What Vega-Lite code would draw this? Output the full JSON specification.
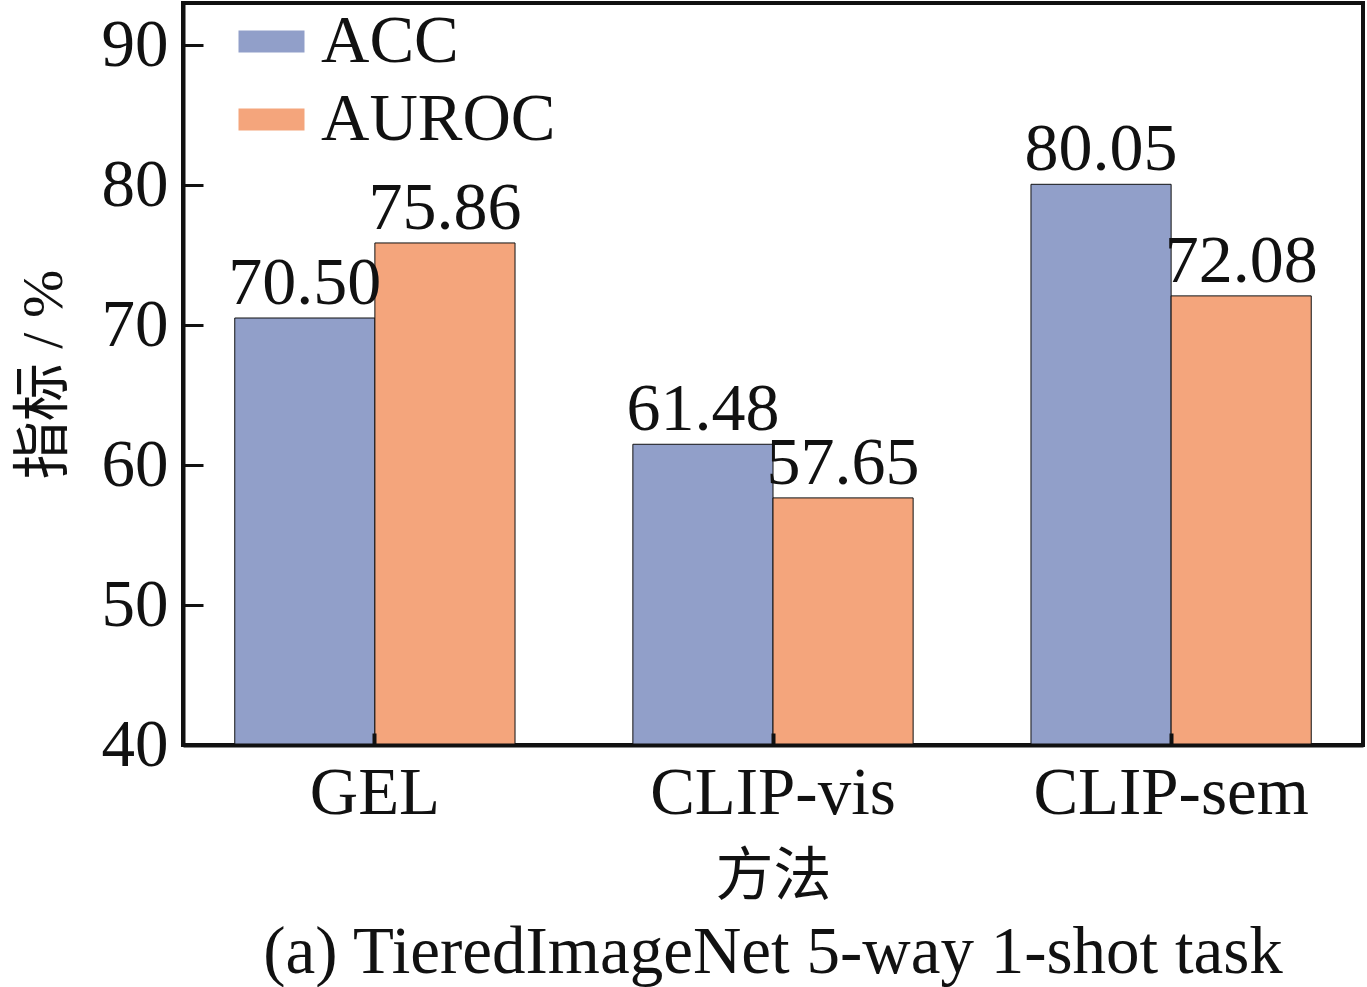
{
  "$schema": "https://vega.github.io/schema/vega-lite/v6.json",
  "width": 1180,
  "height": 742,
  "autosize": "none",
  "padding": {"left": 183, "top": 3, "right": 4, "bottom": 242},
  "background": "white",
  "data": {
    "values": [
      {"method": "GEL", "metric": "ACC", "value": 70.50},
      {"method": "GEL", "metric": "AUROC", "value": 75.86},
      {"method": "CLIP-vis", "metric": "ACC", "value": 61.48},
      {"method": "CLIP-vis", "metric": "AUROC", "value": 57.65},
      {"method": "CLIP-sem", "metric": "ACC", "value": 80.05},
      {"method": "CLIP-sem", "metric": "AUROC", "value": 72.08}
    ]
  },
  "title": {
    "text": "(a) TieredImageNet 5-way 1-shot task",
    "orient": "bottom",
    "font": "Liberation Serif",
    "fontSize": 67,
    "fontWeight": "normal",
    "color": "#111",
    "offset": 14
  },
  "encoding": {
    "x": {
      "field": "method",
      "type": "nominal",
      "sort": ["GEL", "CLIP-vis", "CLIP-sem"],
      "scale": {"paddingInner": 0.296, "paddingOuter": 0.13},
      "axis": {
        "title": "方法",
        "labelAngle": 0,
        "labelFontSize": 67,
        "labelPadding": 27,
        "labelLimit": 0,
        "tickSize": -12,
        "tickWidth": 4,
        "titleFontSize": 58,
        "titlePadding": 22,
        "zindex": 1
      }
    },
    "xOffset": {"field": "metric", "type": "nominal", "sort": ["ACC", "AUROC"]},
    "y": {
      "field": "value",
      "type": "quantitative",
      "scale": {"domain": [40, 93], "nice": false, "zero": false},
      "axis": {
        "title": "指标 / %",
        "values": [40, 50, 60, 70, 80, 90],
        "labelFontSize": 67,
        "labelPadding": 35,
        "tickSize": -20,
        "tickWidth": 3,
        "titleFontSize": 58,
        "titlePadding": 28
      }
    }
  },
  "layer": [
    {
      "mark": {"type": "bar", "stroke": "#111", "strokeWidth": 1, "clip": true},
      "encoding": {
        "color": {
          "field": "metric",
          "type": "nominal",
          "sort": ["ACC", "AUROC"],
          "scale": {"domain": ["ACC", "AUROC"], "range": ["#919FC9", "#F4A57C"]},
          "legend": {
            "title": null,
            "orient": "none",
            "legendX": 55,
            "legendY": 5,
            "symbolType": "M-1,-0.33L1,-0.33L1,0.33L-1,0.33Z",
            "symbolSize": 4356,
            "symbolStrokeWidth": 0,
            "labelFontSize": 67,
            "labelOffset": 16,
            "labelLimit": 0,
            "rowPadding": 10,
            "labelColor": "#111"
          }
        }
      }
    },
    {
      "mark": {"type": "text", "baseline": "alphabetic", "dy": -14, "fontSize": 68, "font": "Liberation Serif", "color": "#111"},
      "encoding": {
        "text": {"field": "value", "type": "quantitative", "format": ".2f"}
      }
    }
  ],
  "config": {
    "font": "Liberation Serif, Noto Sans CJK SC",
    "view": {"stroke": "#111", "strokeWidth": 4},
    "axis": {
      "grid": false,
      "domainColor": "#111",
      "domainWidth": 4,
      "tickColor": "#111",
      "labelColor": "#111",
      "titleColor": "#111",
      "labelFont": "Liberation Serif",
      "titleFont": "Liberation Serif, Noto Sans CJK SC",
      "titleFontWeight": "normal"
    },
    "legend": {"labelFont": "Liberation Serif"}
  }
}
